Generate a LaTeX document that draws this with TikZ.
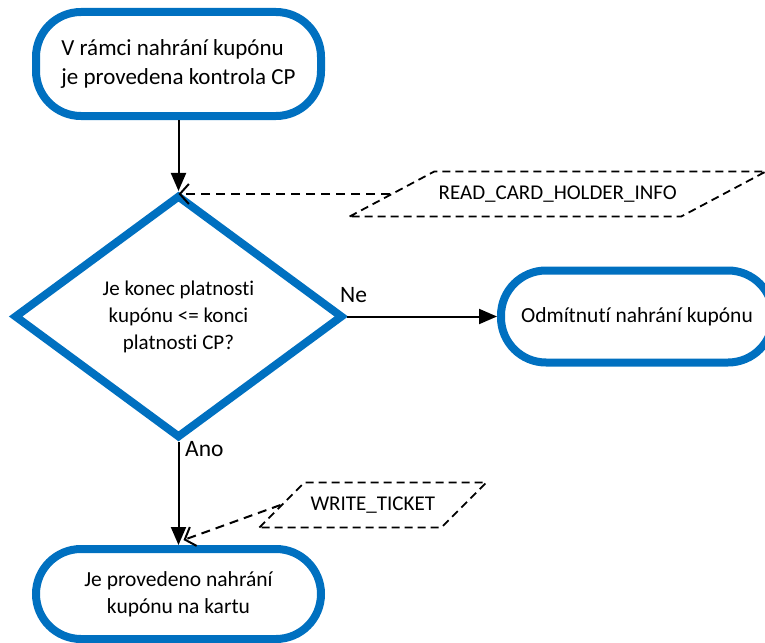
\documentclass[tikz,border=0pt]{standalone}
\usepackage{fontspec}
\setmainfont{Carlito}[Ligatures={TeX,NoCommon}]
\usetikzlibrary{
  arrows.meta,
  shapes.geometric,
  positioning
}
\definecolor{flowblue}{RGB}{0,112,192}
\tikzset{
  term box/.style={
    draw=flowblue, rectangle, rounded corners=45pt,
    line width=8pt, fill=white,
    minimum width=285pt, minimum height=92pt,
    align=center,
    font=\fontsize{21.5}{27}\selectfont
  },
  decision/.style={
    draw=flowblue, diamond, line width=8pt, fill=white,
    minimum width=329pt, minimum height=243pt,
    align=center,
    font=\fontsize{21}{27}\selectfont
  },
  io box/.style={
    draw, trapezium, align=center,
    line width=1.8pt, dash pattern=on 8pt off 5pt,
    text height=15pt, text depth=5pt, inner ysep=12.5pt,
    font=\fontsize{21}{27}\selectfont
  },
  flow arrow/.style={
    -{Triangle[length=18pt,width=15pt]}, line width=2pt
  },
  data arrow/.style={
    -{Straight Barb[length=9pt,width=20pt]}, line width=2pt,
    dash pattern=on 9pt off 6pt
  },
  lbl/.style={
    inner sep=0pt, font=\fontsize{23.5}{28}\selectfont
  },
}

\begin{document}
\begin{tikzpicture}[x=1pt, y=1pt]
  \useasboundingbox (0,0) rectangle (765,-642);

  \node[term box, align=left, minimum height=104pt,
    font=\fontsize{23}{29}\selectfont] (start) at (178.5,-64)
    {V rámci nahrání kupónu\\je provedena kontrola CP};

  \node[decision, below=71pt of start]
    (check) {Je konec platnosti\\kupónu <= konci\\platnosti CP?};

  \node[term box, minimum width=272pt, right=150pt of check]
    (deny)  {Odmítnutí nahrání kupónu};

  \node[term box, minimum height=90pt, below=103pt of check]
    (done)  {Je provedeno nahrání\\kupónu na kartu};

  \node[io box, trapezium left angle=28, trapezium right angle=152,
    text width=240pt, inner xsep=3.5pt,
    right=211.5pt of check.north, anchor=left side, yshift=-3pt]
    (rchi)  {READ\_CARD\_HOLDER\_INFO};

  \node[io box, trapezium left angle=45, trapezium right angle=135,
    text width=125pt, inner xsep=6pt,
    above right=40pt and 102pt of done.north, anchor=left side]
    (wtk)   {WRITE\_TICKET};

  \coordinate (rchin) at ([yshift=-3pt]check.north);
  \coordinate (wtin) at ([shift={(5pt,5pt)}]done.north);

  \node[lbl, anchor=base west] (ne)  at ([shift={(-7pt,14pt)}]check.east)   {Ne};
  \node[lbl, anchor=base west] (ano) at ([shift={(6.5pt,-14pt)}]check.south) {Ano};

  \draw[flow arrow] (start) -- (check);
  \draw[data arrow] (rchi.left side) -- (rchin);
  \draw[flow arrow] (check.east) -- (deny.west);
  \draw[flow arrow] (check.south) -- (done.north);
  \draw[data arrow] (wtk.left side) -- (wtin);

\end{tikzpicture}
\end{document}
